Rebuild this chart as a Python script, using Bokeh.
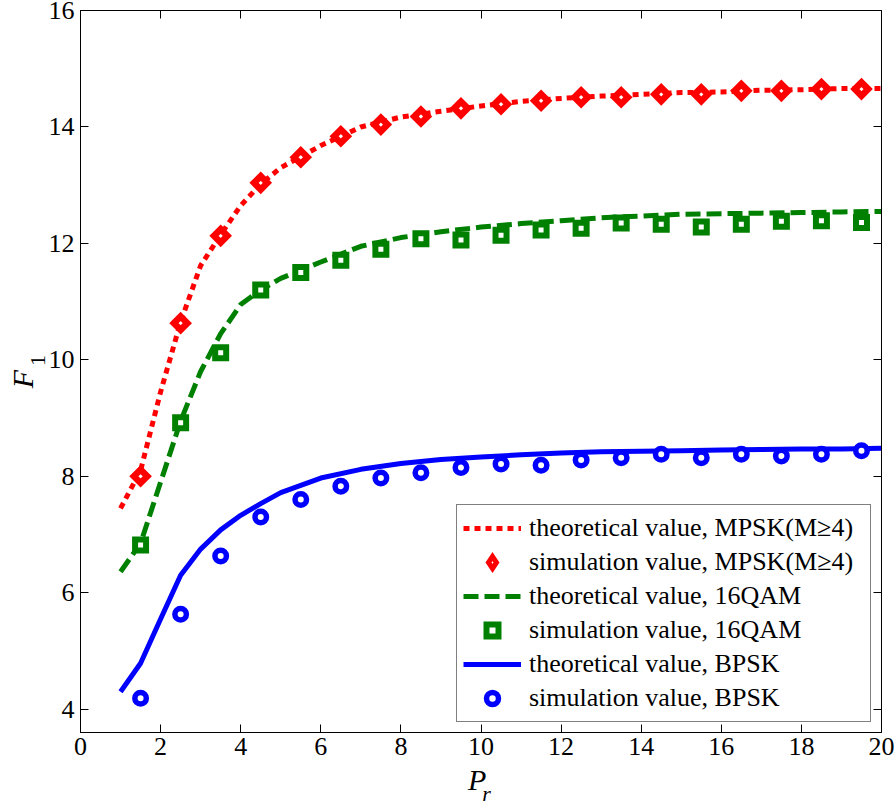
import math
from bokeh.plotting import figure
from bokeh.models import Range1d, LinearAxis, FixedTicker, ColumnDataSource
from bokeh.embed import file_html
from bokeh.resources import INLINE

# ---- data ----
x_theory = [1, 1.5, 2, 2.5, 3, 3.5, 4, 4.5, 5, 6, 7, 8, 9, 10, 11, 12, 13, 14, 15, 16, 17, 18, 19, 20]
mpsk_theory = [7.45, 8.1, 9.45, 10.65, 11.62, 12.15, 12.65, 13.02, 13.3, 13.68, 14.0, 14.17, 14.27, 14.36,
               14.44, 14.49, 14.53, 14.56, 14.59, 14.6, 14.63, 14.64, 14.66, 14.66]
qam_theory = [6.36, 6.85, 7.9, 8.95, 9.8, 10.45, 10.95, 11.2, 11.4, 11.68, 11.95, 12.1, 12.2, 12.28,
              12.34, 12.39, 12.44, 12.47, 12.5, 12.51, 12.52, 12.53, 12.54, 12.55]
bpsk_theory = [4.3, 4.79, 5.55, 6.3, 6.75, 7.08, 7.33, 7.53, 7.72, 7.97, 8.12, 8.22, 8.29, 8.33,
               8.37, 8.4, 8.42, 8.43, 8.44, 8.45, 8.46, 8.47, 8.47, 8.48]

x_sim = [1.5, 2.5, 3.5, 4.5, 5.5, 6.5, 7.5, 8.5, 9.5, 10.5, 11.5, 12.5, 13.5, 14.5, 15.5, 16.5, 17.5, 18.5, 19.5]
mpsk_sim = [8.0, 10.63, 12.13, 13.04, 13.48, 13.84, 14.04, 14.18, 14.32, 14.39, 14.45, 14.51, 14.51,
            14.56, 14.56, 14.62, 14.62, 14.65, 14.65]
qam_sim = [6.82, 8.92, 10.12, 11.2, 11.5, 11.71, 11.9, 12.08, 12.06, 12.14, 12.23, 12.26, 12.35,
           12.33, 12.28, 12.33, 12.38, 12.39, 12.36]
bpsk_sim = [4.19, 5.63, 6.63, 7.3, 7.6, 7.83, 7.97, 8.06, 8.15, 8.21, 8.19, 8.28, 8.32, 8.38, 8.32,
            8.38, 8.35, 8.38, 8.44]

x_ticks = [0, 2, 4, 6, 8, 10, 12, 14, 16, 18, 20]
y_ticks = [4, 6, 8, 10, 12, 14, 16]

labels = ["theoretical value, MPSK(M\u22654)", "simulation value, MPSK(M\u22654)",
          "theoretical value, 16QAM", "simulation value, 16QAM",
          "theoretical value, BPSK", "simulation value, BPSK"]

RED, GREEN, BLUE = "#FF0000", "#008000", "#0000FF"
FONT = "Liberation Serif"
NB = "\u00a0"

p = figure(width=894, height=808, x_range=Range1d(0, 20), y_range=Range1d(3.6, 16),
           output_backend="svg", toolbar_location=None,
           min_border_left=80, min_border_right=13, min_border_top=10, min_border_bottom=76)
p.background_fill_color = "white"
p.border_fill_color = "white"
p.outline_line_color = "black"
p.xgrid.visible = False
p.ygrid.visible = False
# a range that only serves the legend swatch of the diamond markers
p.extra_y_ranges = {"legend_swatch": Range1d(100, 200)}

mpsk_src = ColumnDataSource(dict(x=x_sim, y=mpsk_sim))

# lines and markers
p.line(x_theory, mpsk_theory, line_color=RED, line_width=5, line_dash="6 5", legend_label=labels[0])
p.scatter("x", "y", source=mpsk_src, marker="square", angle=math.pi / 4, size=9.5, line_width=6.5,
          line_color=RED, fill_color="white", line_join="miter")
# legend glyphs ignore the marker angle, so the diamond swatch comes from this renderer
p.scatter("x", "y", source=mpsk_src, y_range_name="legend_swatch",
          marker="diamond", size=12, line_width=5,
          line_color=RED, fill_color="white", line_join="miter", legend_label=labels[1])
p.line(x_theory, qam_theory, line_color=GREEN, line_width=5, line_dash="15 6", legend_label=labels[2])
p.scatter(x_sim, qam_sim, marker="square", size=11, line_width=6,
          line_color=GREEN, fill_color="white", line_join="miter", legend_label=labels[3])
p.line(x_theory, bpsk_theory, line_color=BLUE, line_width=5, legend_label=labels[4])
p.scatter(x_sim, bpsk_sim, marker="circle", size=11.5, line_width=5.5,
          line_color=BLUE, fill_color="white", legend_label=labels[5])


def style_axis(ax, ticks):
    ax.ticker = FixedTicker(ticks=ticks)
    ax.axis_line_color = "black"
    ax.axis_line_width = 1
    ax.major_tick_line_color = "black"
    ax.major_tick_line_width = 1
    ax.major_tick_in = 8
    ax.major_tick_out = 0
    ax.minor_tick_line_color = None
    ax.major_label_text_font = FONT
    ax.major_label_text_font_size = "26px"
    ax.major_label_text_color = "black"


def mirror_axis(ticks):
    # box side with inward ticks only (ticks given as minor ticks so no labels are made)
    ax = LinearAxis(ticker=FixedTicker(ticks=[], minor_ticks=ticks))
    ax.axis_line_color = "black"
    ax.axis_line_width = 1
    ax.major_tick_line_color = None
    ax.minor_tick_line_color = "black"
    ax.minor_tick_line_width = 1
    ax.minor_tick_in = 8
    ax.minor_tick_out = 0
    ax.major_tick_in = 0
    ax.major_tick_out = 0
    ax.major_label_standoff = 0
    return ax


def title_axis(text, size, italic, standoff):
    ax = LinearAxis(ticker=FixedTicker(ticks=[]))
    ax.axis_line_color = None
    ax.major_tick_line_color = None
    ax.minor_tick_line_color = None
    ax.major_tick_in = 0
    ax.major_tick_out = 0
    ax.minor_tick_out = 0
    ax.major_label_standoff = 0
    ax.axis_label = text
    ax.axis_label_text_font = FONT
    ax.axis_label_text_font_size = size
    ax.axis_label_text_font_style = "italic" if italic else "normal"
    ax.axis_label_text_color = "black"
    ax.axis_label_standoff = standoff
    return ax


style_axis(p.xaxis[0], x_ticks)
p.xaxis[0].major_label_standoff = 5
p.xaxis[0].axis_label = "P" + NB
p.xaxis[0].axis_label_text_font = FONT
p.xaxis[0].axis_label_text_font_size = "30px"
p.xaxis[0].axis_label_text_font_style = "italic"
p.xaxis[0].axis_label_text_color = "black"
p.xaxis[0].axis_label_standoff = 5

style_axis(p.yaxis[0], y_ticks)
p.yaxis[0].major_label_standoff = 6
p.yaxis[0].axis_label = NB * 4 + "1"
p.yaxis[0].axis_label_text_font = FONT
p.yaxis[0].axis_label_text_font_size = "22px"
p.yaxis[0].axis_label_text_font_style = "normal"
p.yaxis[0].axis_label_text_color = "black"
p.yaxis[0].axis_label_standoff = -4

p.add_layout(mirror_axis(x_ticks), "above")
p.add_layout(mirror_axis(y_ticks), "right")

# outer axis titles: subscript r below P, and F left of subscript 1
p.add_layout(title_axis(NB * 2 + "r", "22px", True, -18), "below")
p.add_layout(title_axis("F" + NB * 2, "30px", True, -17), "left")

lg = p.legend[0]
lg.location = "bottom_right"
lg.margin = 10
lg.padding = 6
lg.spacing = 0
lg.label_height = 34
lg.glyph_height = 30
lg.glyph_width = 58
lg.label_standoff = 8
lg.label_width = 335
lg.label_text_font = FONT
lg.label_text_font_size = "26px"
lg.label_text_color = "black"
lg.border_line_color = "black"
lg.border_line_width = 1
lg.background_fill_color = "white"
lg.background_fill_alpha = 1.0

open("out.html", "w").write(file_html(p, INLINE))
